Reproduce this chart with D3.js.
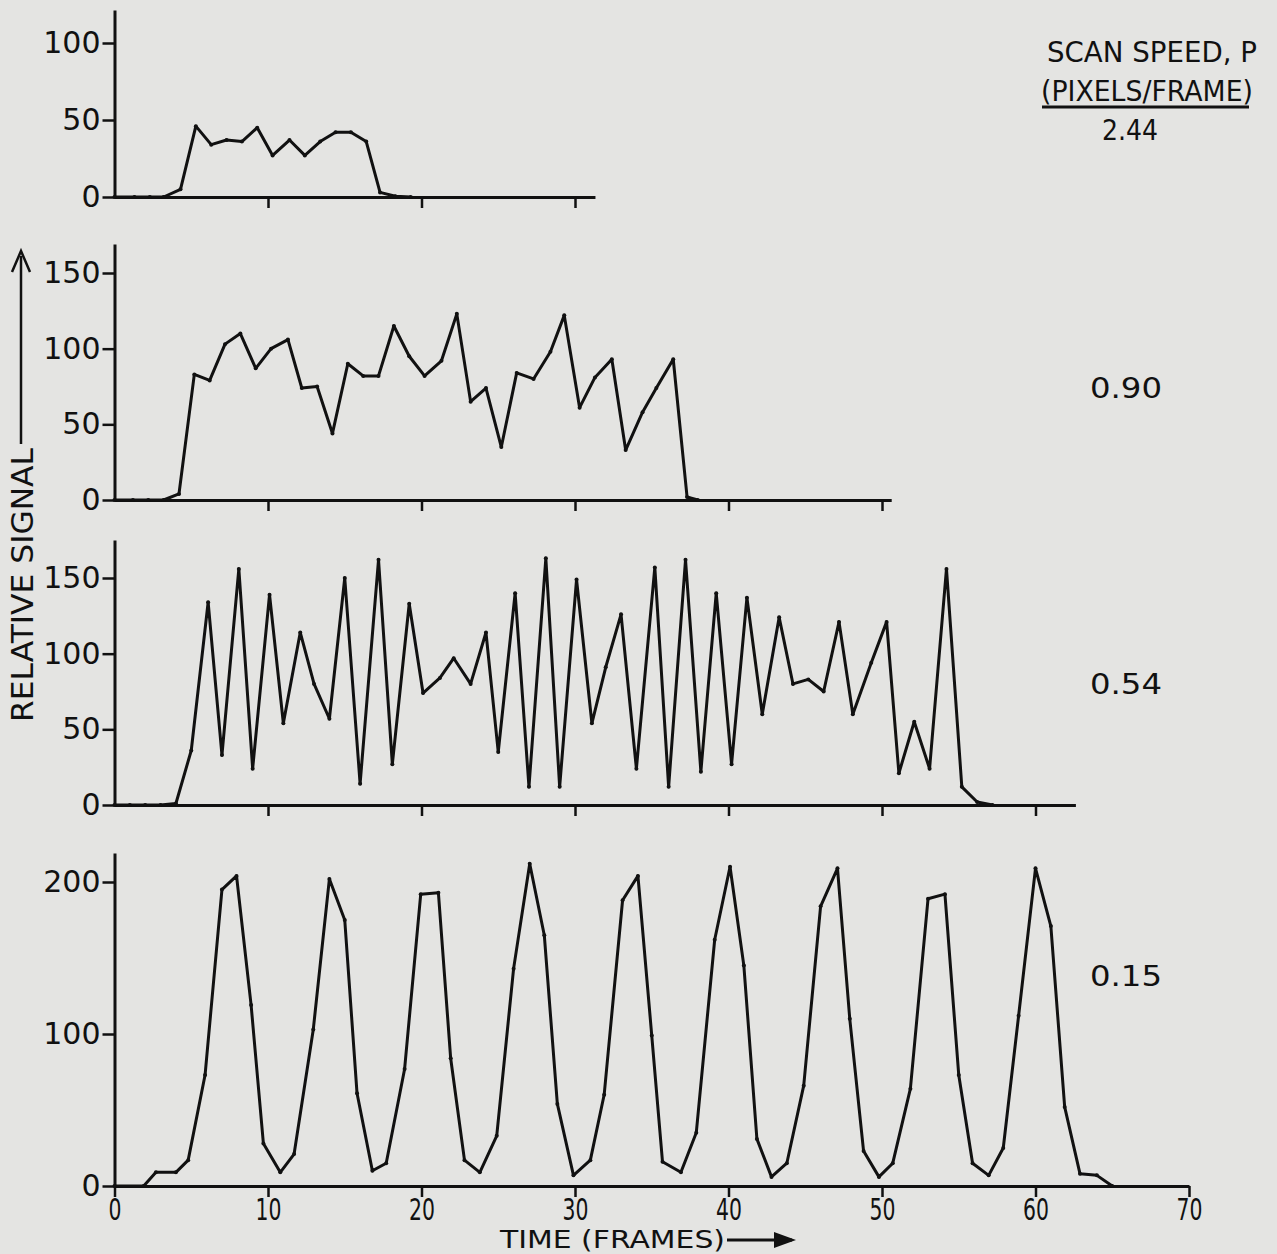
<!DOCTYPE html>
<html>
<head>
<meta charset="utf-8">
<script src="https://cdn.jsdelivr.net/npm/d3@7"></script>
<style>
  body { margin: 0; background: #e4e4e2; }
  svg { display: block; }
  text { font-family: "DejaVu Sans", "Liberation Sans", sans-serif; fill: #111; }
</style>
</head>
<body>
<svg id="chart" width="1277" height="1254"></svg>
<script>
// scan speed 2.44 px/frame
var frames244 = [0, 1.3, 2.3, 3.2, 4.3, 5.3, 6.3, 7.3, 8.3, 9.3, 10.3, 11.4, 12.4, 13.4, 14.4, 15.4, 16.4, 17.3, 18.3, 19.3];
var signal244 = [0, 0, 0, 0, 5, 46, 34, 37, 36, 45, 27, 37, 27, 36, 42, 42, 36, 3, 0.5, 0];

// scan speed 0.90
var frames090 = [0, 1.2, 2.2, 3.2, 4.2, 5.2, 6.2, 7.2, 8.2, 9.2, 10.2, 11.3, 12.2, 13.2, 14.2, 15.2, 16.2, 17.2, 18.2, 19.2,
  20.2, 21.3, 22.3, 23.2, 24.2, 25.2, 26.2, 27.3, 28.4, 29.3, 30.3, 31.3, 32.4, 33.3, 34.4, 35.3, 36.4, 37.3, 38.0];
var signal090 = [0, 0, 0, 0, 4, 83, 79, 103, 110, 87, 100, 106, 74, 75, 44, 90, 82, 82, 115, 95,
  82, 92, 123, 65, 74, 35, 84, 80, 98, 122, 61, 81, 93, 33, 58, 74, 93, 2, 0];

// scan speed 0.54
var frames054 = [0, 1, 2, 3, 4, 5, 6.1, 7, 8.1, 9, 10.1, 11, 12.1, 13, 14, 15, 16, 17.2, 18.1, 19.2,
  20.1, 21.2, 22.1, 23.2, 24.2, 25, 26.1, 27, 28.1, 29, 30.1, 31.1, 32, 33, 34, 35.2, 36.1, 37.2, 38.2, 39.2,
  40.2, 41.2, 42.2, 43.3, 44.2, 45.2, 46.2, 47.2, 48.1, 49.3, 50.3, 51.1, 52.1, 53.1, 54.2, 55.2, 56.2, 57.2];
var signal054 = [0, 0, 0, 0, 1, 36, 134, 33, 156, 24, 139, 54, 114, 80, 57, 150, 14, 162, 27, 133,
  74, 84, 97, 80, 114, 35, 140, 12, 163, 12, 149, 54, 91, 126, 24, 157, 12, 162, 22, 140,
  27, 137, 60, 124, 80, 83, 75, 121, 60, 94, 121, 21, 55, 24, 156, 12, 2, 0];

// scan speed 0.15
var frames015 = [0, 1.9, 2.7, 4, 4.8, 5.9, 7, 7.95, 8.9, 9.7, 10.8, 11.7, 12.95, 14, 15, 15.8, 16.8, 17.7, 18.9, 19.95,
  21.1, 21.9, 22.8, 23.8, 24.9, 26, 27.05, 28, 28.85, 29.9, 31, 31.9, 33.1, 34.1, 35, 35.7, 36.9, 37.9, 39.1, 40.1,
  41, 41.85, 42.8, 43.8, 44.9, 46, 47.1, 47.9, 48.8, 49.8, 50.7, 51.85, 53, 54.1, 55, 55.9, 56.95, 57.9, 58.9, 60,
  61, 61.9, 62.9, 64, 65];
var signal015 = [0, 0, 9, 9, 17, 73, 195, 204, 119, 28, 9, 21, 103, 202, 175, 61, 10, 15, 77, 192,
  193, 84, 17, 9, 33, 143, 212, 165, 54, 7, 17, 60, 188, 204, 99, 16, 9, 35, 162, 210,
  145, 31, 6, 15, 66, 184, 209, 110, 23, 6, 15, 64, 189, 192, 73, 15, 7, 25, 112, 209,
  171, 52, 8, 7, 0];

var speedLabels = ["2.44", "0.90", "0.54", "0.15"];
var xTicks = [0, 10, 20, 30, 40, 50, 60, 70];

var svg = d3.select("#chart");
var x = d3.scaleLinear().domain([0, 70]).range([114.5, 1189]);

// layout of the four strips
var panels = [
  { frames: frames244, signal: signal244, base: 197, tickMax: 100, tickMaxY: 43, axisTop: 10, xEnd: 31.3, yTicks: [0, 50, 100], labelY: 140 },
  { frames: frames090, signal: signal090, base: 500, tickMax: 150, tickMaxY: 273, axisTop: 244, xEnd: 50.6, yTicks: [0, 50, 100, 150], labelY: 398 },
  { frames: frames054, signal: signal054, base: 805, tickMax: 150, tickMaxY: 578, axisTop: 540, xEnd: 62.6, yTicks: [0, 50, 100, 150], labelY: 694 },
  { frames: frames015, signal: signal015, base: 1186, tickMax: 200, tickMaxY: 882, axisTop: 853, xEnd: 70, yTicks: [0, 100, 200], labelY: 986 }
];

panels.forEach(function (p, i) {
  var y = d3.scaleLinear().domain([0, p.tickMax]).range([p.base, p.tickMaxY]);
  var yAxisScale = y.copy().domain([0, y.invert(p.axisTop)]).range([p.base, p.axisTop]);
  var xAxisScale = x.copy().domain([0, p.xEnd]).range([x(0), x(p.xEnd)]);
  var last = i === panels.length - 1;

  var g = svg.append("g").attr("class", "panel");

  var xa = g.append("g")
    .attr("transform", "translate(0," + p.base + ")")
    .call(d3.axisBottom(xAxisScale)
      .tickValues(xTicks.filter(function (t) { return last ? true : (t > 0 && t <= p.xEnd); }))
      .tickSize(11).tickSizeOuter(0).tickPadding(2)
      .tickFormat(last ? d3.format("d") : ""));
  xa.select(".domain").attr("stroke", "#111").attr("stroke-width", 3);
  xa.selectAll(".tick line").attr("stroke", "#111").attr("stroke-width", 2.5);
  xa.selectAll(".tick text")
    .attr("font-size", 30)
    .attr("transform", "scale(0.68,1)")
    .style("font-family", "DejaVu Sans, sans-serif");

  var ya = g.append("g")
    .attr("transform", "translate(" + x(0) + ",0)")
    .call(d3.axisLeft(yAxisScale).tickValues(p.yTicks).tickSize(12).tickSizeOuter(0).tickPadding(2)
      .tickFormat(d3.format("d")));
  ya.select(".domain").attr("stroke", "#111").attr("stroke-width", 3);
  ya.selectAll(".tick line").attr("stroke", "#111").attr("stroke-width", 2.5);
  ya.selectAll(".tick text").attr("font-size", 30);

  var pts = p.frames.map(function (f, k) { return [f, p.signal[k]]; });
  var line = d3.line()
    .x(function (d) { return x(d[0]); })
    .y(function (d) { return y(d[1]); });

  g.append("path")
    .datum(pts)
    .attr("d", line)
    .attr("fill", "none")
    .attr("stroke", "#111")
    .attr("stroke-width", 3)
    .attr("stroke-linejoin", "round");

  g.append("g").selectAll("circle")
    .data(pts)
    .enter()
    .append("circle")
    .attr("cx", function (d) { return x(d[0]); })
    .attr("cy", function (d) { return y(d[1]); })
    .attr("r", 2)
    .attr("fill", "#111");

  svg.append("text")
    .attr("x", i === 0 ? 1130 : 1126)
    .attr("y", p.labelY)
    .attr("text-anchor", "middle")
    .attr("font-size", 28)
    .attr("textLength", i === 0 ? 56 : 72)
    .attr("lengthAdjust", "spacingAndGlyphs")
    .text(speedLabels[i]);
});

// legend heading
svg.append("text")
  .attr("x", 1152).attr("y", 62)
  .attr("text-anchor", "middle")
  .attr("font-size", 28)
  .attr("textLength", 210)
  .attr("lengthAdjust", "spacingAndGlyphs")
  .text("SCAN SPEED, P");
svg.append("text")
  .attr("x", 1147).attr("y", 101)
  .attr("text-anchor", "middle")
  .attr("font-size", 28)
  .attr("textLength", 212)
  .attr("lengthAdjust", "spacingAndGlyphs")
  .text("(PIXELS/FRAME)");
svg.append("line")
  .attr("x1", 1042).attr("x2", 1249)
  .attr("y1", 107).attr("y2", 107)
  .attr("stroke", "#111").attr("stroke-width", 3);

// y title with arrow
svg.append("text")
  .attr("transform", "translate(33,585) rotate(-90)")
  .attr("text-anchor", "middle")
  .attr("font-size", 30)
  .attr("textLength", 274)
  .attr("lengthAdjust", "spacingAndGlyphs")
  .text("RELATIVE SIGNAL");
svg.append("line")
  .attr("x1", 21).attr("x2", 21).attr("y1", 444).attr("y2", 256)
  .attr("stroke", "#111").attr("stroke-width", 2.5);
svg.append("path")
  .attr("d", "M12,272 L21,251 L30,272")
  .attr("fill", "none").attr("stroke", "#111").attr("stroke-width", 2.5);

// x title with arrow
svg.append("text")
  .attr("x", 500).attr("y", 1248)
  .attr("font-size", 24)
  .attr("textLength", 225)
  .attr("lengthAdjust", "spacingAndGlyphs")
  .text("TIME (FRAMES)");
svg.append("line")
  .attr("x1", 727).attr("x2", 792).attr("y1", 1240).attr("y2", 1240)
  .attr("stroke", "#111").attr("stroke-width", 3);
svg.append("path")
  .attr("d", "M774,1232 L796,1240 L774,1248 Z")
  .attr("fill", "#111");
</script>
</body>
</html>
